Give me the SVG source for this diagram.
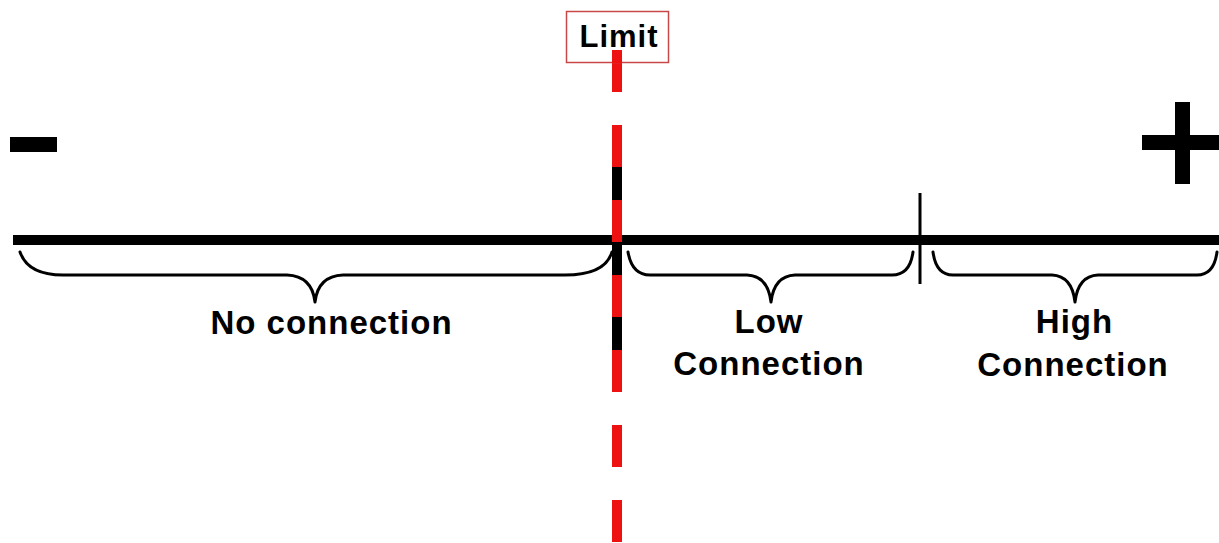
<svg xmlns="http://www.w3.org/2000/svg" width="1219" height="543" viewBox="0 0 1219 543">
  <style>
    .lbl { font-family: "Liberation Sans", Arial, sans-serif; font-weight: bold; fill: #000; text-anchor: middle; letter-spacing: 1px; }
    .big { font-size: 33px; }
    .brace { fill: none; stroke: #000; stroke-width: 3; stroke-linejoin: round; stroke-linecap: round; }
  </style>
  <rect width="1219" height="543" fill="#fff"/>

  <!-- sign markers -->
  <g id="minus">
    <rect x="10" y="137" width="47" height="15" fill="#000"/>
  </g>
  <g id="plus">
    <rect x="1175" y="102" width="15" height="82" fill="#000"/>
    <rect x="1142" y="135" width="80" height="15" fill="#000"/>
  </g>

  <g id="connectors">
    <!-- main axis -->
    <line x1="13" y1="240" x2="1219" y2="240" stroke="#000" stroke-width="10"/>
    <!-- boundary tick between low and high -->
    <line x1="920" y1="193" x2="920" y2="284" stroke="#000" stroke-width="3"/>
    <!-- black core of the limit line -->
    <line x1="617" y1="167" x2="617" y2="350" stroke="#000" stroke-width="10"/>
    <!-- dashed limit line -->
    <line x1="617" y1="50" x2="617" y2="543" stroke="#ee1111" stroke-width="10" stroke-dasharray="42 33"/>
  </g>

  <g id="limit">
    <rect x="566.5" y="11.5" width="102" height="51" fill="#fff" stroke="#c84848" stroke-width="1.5"/>
    <line x1="617" y1="50" x2="617" y2="63" stroke="#ee1111" stroke-width="10"/>
    <text class="lbl" x="619" y="47" font-size="31">Limit</text>
  </g>

  <g id="no-connection">
    <path class="brace" d="M20,252 Q28,275 63,275 L287,275 Q312,276 315,302 Q318,276 343,275 L565,275 Q605,275 612,252"/>
    <text class="lbl big" x="331.5" y="334">No connection</text>
  </g>

  <g id="low-connection">
    <path class="brace" d="M628,252 Q632,275 650,275 L747,275 Q768,276 771,302 Q774,276 795,275 L892,275 Q910,275 913,252"/>
    <text class="lbl big" x="769" y="333">Low</text>
    <text class="lbl big" x="769" y="375">Connection</text>
  </g>

  <g id="high-connection">
    <path class="brace" d="M933,252 Q936,275 953,275 L1052,275 Q1072,276 1075,302 Q1078,276 1098,275 L1197,275 Q1214,275 1217,252"/>
    <text class="lbl big" x="1074.5" y="333">High</text>
    <text class="lbl big" x="1073" y="376">Connection</text>
  </g>
</svg>
